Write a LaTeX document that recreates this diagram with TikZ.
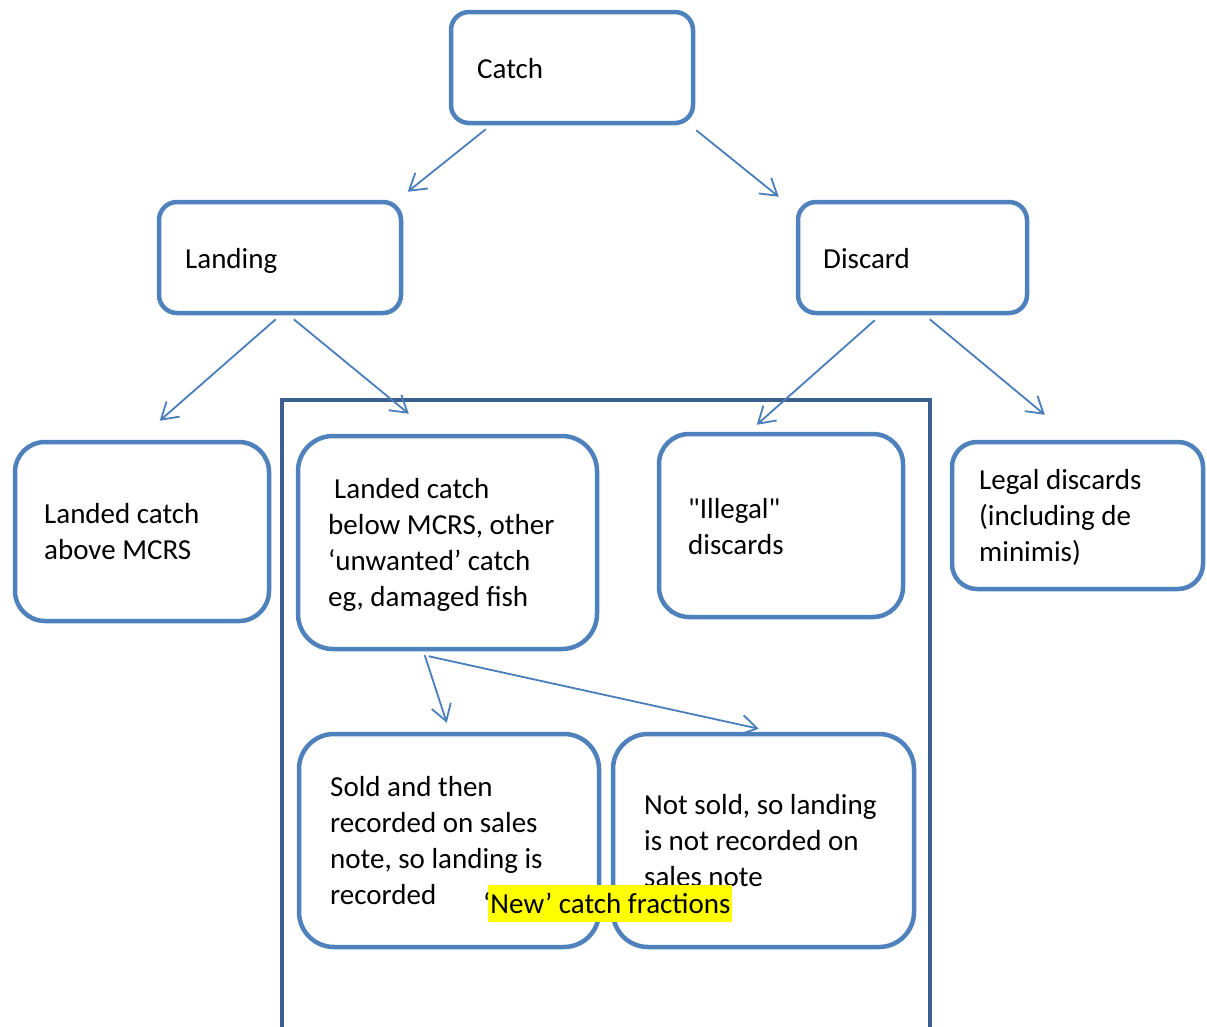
\documentclass[tikz,border=0pt]{standalone}
\usepackage{fontspec}
\setmainfont{Carlito}
\newfontfamily\nolig{Carlito}[Ligatures=TeXOff]
\usetikzlibrary{arrows.meta,calc}
\definecolor{boxblue}{HTML}{4F81BD}
\definecolor{arrblue}{HTML}{4A7EBB}
\definecolor{frameblue}{HTML}{3B5F8E}
\definecolor{hlyellow}{HTML}{FFFF00}
\tikzset{
  rbox/.style={draw=boxblue, line width=4.5pt, fill=white, inner sep=0pt},
  arr/.style={draw=arrblue, line width=1.8pt, -{Straight Barb[length=16pt,width=20pt,line width=1.8pt]}},
  txt/.style={anchor=base west, inner sep=0pt, align=left, font=\fontsize{29}{36}\selectfont},
  frame/.style={draw=frameblue, line width=4.5pt},
}
\begin{document}
\begin{tikzpicture}[x=1pt,y=-1pt]
\useasboundingbox (0,0) rectangle (1207,1026);
\begin{scope}
\clip (0,0) rectangle (1207,1026);
\draw[frame] (282,400) rectangle (930,1060);
\end{scope}
% boxes
\node[rbox, rounded corners=18pt, minimum width=242pt, minimum height=111pt] (catch) at (572,67.5) {};
\node[rbox, rounded corners=18pt, minimum width=242pt, minimum height=111pt] (landing) at (280,257.5) {};
\node[rbox, rounded corners=18pt, minimum width=229pt, minimum height=111pt] (discard) at (912.5,257.5) {};
\node[rbox, rounded corners=30pt, minimum width=254pt, minimum height=179pt] (above) at (142,531.5) {};
\node[rbox, rounded corners=35pt, minimum width=299pt, minimum height=213pt] (below) at (447.5,542.5) {};
\node[rbox, rounded corners=30pt, minimum width=244pt, minimum height=183pt] (illegal) at (781,525.5) {};
\node[rbox, rounded corners=25pt, minimum width=251pt, minimum height=147pt] (legal) at (1077.5,515.5) {};
\node[rbox, rounded corners=35pt, minimum width=300pt, minimum height=213pt] (sold) at (449,840.5) {};
\node[rbox, rounded corners=35pt, minimum width=301pt, minimum height=213pt] (notsold) at (763.5,840.5) {};
% texts (base anchor = baseline of last line)
\node[txt] (catchT) at (477,78) {Catch};
\node[txt] (landingT) at (185,268) {Landing};
\node[txt] (discardT) at (823,268) {Discard};
\node[txt] (aboveT) at (44,559) {Landed catch\\above MCRS};
\node[txt] (belowT) at (328,606) {\hspace*{6pt}Landed catch\\below MCRS, other\\‘unwanted’ catch\\eg, damaged fish};
\node[txt] (illegalT) at (688,554) {{\nolig "Illegal"}\\discards};
\node[txt] (legalT) at (979,561) {Legal discards\\(including de\\minimis)};
\node[txt] (soldT) at (330,904) {Sold and then\\recorded on sales\\note, so landing is\\recorded};
\node[txt] (notsoldT) at (644,886) {Not sold, so landing\\is not recorded on\\sales note};
% arrows
\draw[arr] ([shift={(37,4)}]catch.south west) -- ([shift={(251,-8)}]landing.north west);
\draw[arr] ([shift={(1,5)}]catch.south east) -- ([shift={(-17,-3)}]discard.north west);
\draw[arr] ([shift={(119,4)}]landing.south west) -- ([shift={(147,-19)}]above.north west);
\draw[arr] ([shift={(137,4)}]landing.south west) -- ([shift={(113,-20)}]below.north west);
\draw[arr] ([shift={(79,5)}]discard.south west) -- ([shift={(100,-7)}]illegal.north west);
\draw[arr] ([shift={(134,4)}]discard.south west) -- ([shift={(95,-25)}]legal.north west);
\draw[arr] ([shift={(129,4)}]below.south west) -- ([shift={(150,-9)}]sold.north west);
\draw[arr] ([shift={(133,5)}]below.south west) -- ([shift={(148,-3)}]notsold.north west);
% highlight
\node[fill=hlyellow, inner sep=0pt, minimum width=244pt, minimum height=37pt] (hl) at (610,903.5) {};
\node[txt] (hlT) at (483,913) {‘New’ catch fractions};
\end{tikzpicture}
\end{document}
